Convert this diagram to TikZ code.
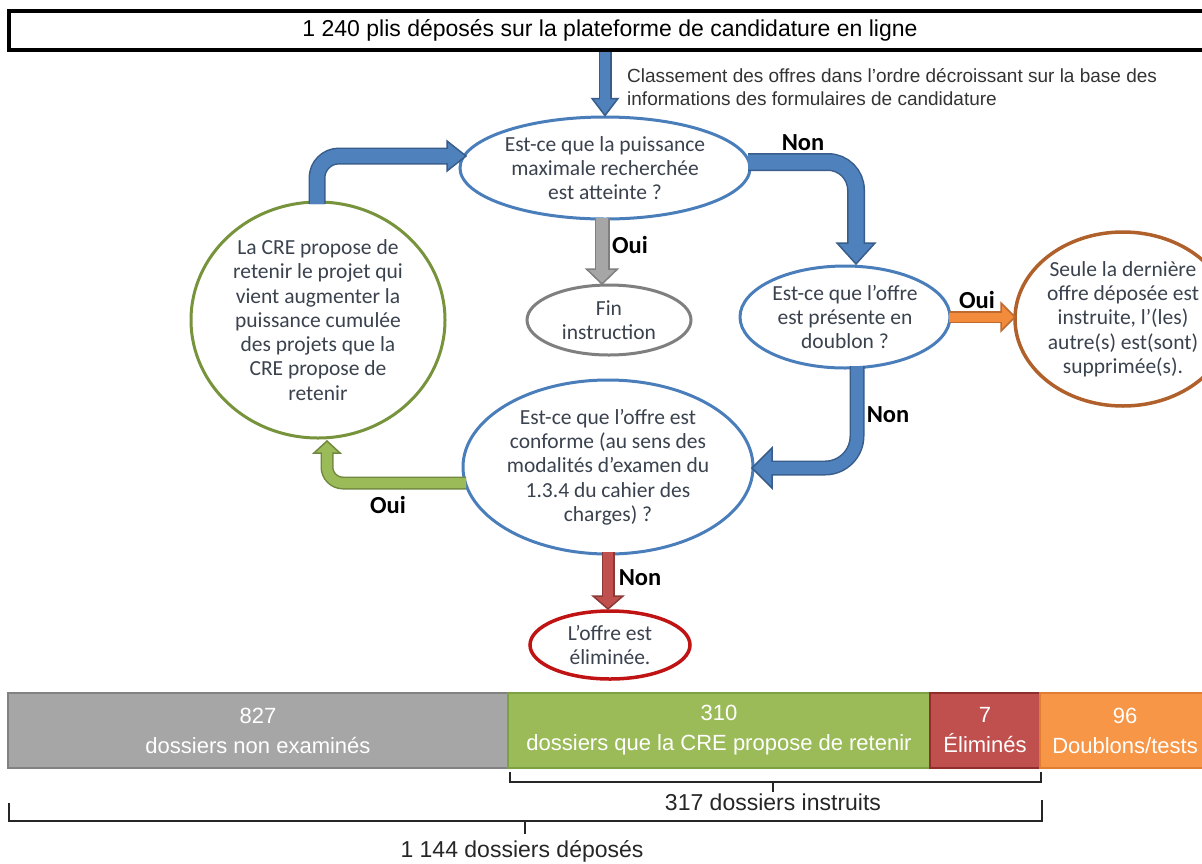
\documentclass[tikz,border=0pt]{standalone}
\usepackage{fontspec}
\setmainfont{Carlito}
\newfontfamily\nar{Liberation Sans}
\usetikzlibrary{shapes.geometric,calc}
\definecolor{txt}{RGB}{58,66,78}
\definecolor{blueF}{RGB}{79,129,189}
\definecolor{blueD}{RGB}{56,93,138}
\definecolor{blueE}{RGB}{74,126,187}
\definecolor{grayF}{RGB}{166,166,166}
\definecolor{grayD}{RGB}{127,127,127}
\definecolor{orF}{RGB}{242,140,60}
\definecolor{orD}{RGB}{190,105,45}
\definecolor{brownE}{RGB}{176,96,42}
\definecolor{redF}{RGB}{192,80,77}
\definecolor{redD}{RGB}{140,56,54}
\definecolor{redE}{RGB}{192,20,20}
\definecolor{greenF}{RGB}{155,187,89}
\definecolor{greenD}{RGB}{113,137,63}
\definecolor{greenE}{RGB}{119,147,60}
\definecolor{barGray}{RGB}{166,166,166}
\definecolor{barGrayD}{RGB}{130,130,130}
\definecolor{barGreen}{RGB}{155,187,89}
\definecolor{barGreenD}{RGB}{125,160,65}
\definecolor{barRed}{RGB}{192,80,77}
\definecolor{barRedD}{RGB}{145,45,45}
\definecolor{barOr}{RGB}{247,150,70}
\definecolor{barOrD}{RGB}{225,125,50}
\tikzset{
  ell/.style={ellipse, draw=#1, line width=3pt, inner sep=0pt, align=center,
    text=txt, font=\fontsize{21.5}{24.3}\selectfont},
  lab/.style={font=\fontsize{24.5}{26}\selectfont\bfseries, text=black},
  barbox/.style 2 args={rectangle, fill=#1, draw=#2, line width=2pt,
    minimum height=75pt, inner sep=0pt, align=center, text=white,
    font=\nar\fontsize{22}{30}\selectfont},
  brk/.style={line width=2pt, draw=black!85},
}
% #1 fill, #2 border, #3 outer width, #4 shaft path, #5 tip, #6 rotation, #7 head half width, #8 head length
\newcommand\blk[8]{%
  \draw[draw=#2, line width=#3pt, line cap=butt] #4;
  \filldraw[fill=#1, draw=#2, line width=1.5pt, line join=miter, shift={(#5)}, rotate=#6]
    (0,0) -- (-#8,#7) -- (-#8,-#7) -- cycle;
  \draw[draw=#1, line width=#3pt-3pt, line cap=butt] #4;
}
\begin{document}
\begin{tikzpicture}[x=1pt,y=-1pt]
\useasboundingbox (0,0) rectangle (1202,863);
\fill[white] (0,0) rectangle (1202,863);

% top box
\node[draw=black, line width=3.5pt, minimum width=1202pt, minimum height=39pt, inner sep=0pt,
  font=\nar\fontsize{23}{26}\selectfont, text=black] (top) at (610,30.5)
  {1 240 plis déposés sur la plateforme de candidature en ligne};
\node[anchor=west, align=left, inner sep=0pt, text=black!80,
  font=\nar\fontsize{19}{23}\selectfont] (cap) at (627,87)
  {Classement des offres dans l’ordre décroissant sur la base des\\informations des formulaires de candidature};

% ellipses
\node[ell=blueE, minimum width=290pt, minimum height=102pt] (e1) at (605,168)
  {Est-ce que la puissance\\maximale recherchée\\est atteinte ?};
\node[ell=grayD, minimum width=164pt, minimum height=70pt] (fin) at (609,320)
  {Fin\\instruction};
\node[ell=blueE, minimum width=210pt, minimum height=102pt] (e2) at (845,317)
  {Est-ce que l’offre\\est présente en\\doublon ?};
\node[ell=brownE, line width=3.5pt, minimum width=216pt, minimum height=174pt] (sup) at (1123,319)
  {Seule la dernière\\offre déposée est\\instruite, l’(les)\\autre(s) est(sont)\\supprimée(s).};
\node[ell=blueE, minimum width=290pt, minimum height=174pt] (e3) at (608,467)
  {Est-ce que l’offre est\\conforme (au sens des\\modalités d’examen du\\1.3.4 du cahier des\\charges) ?};
\node[ell=redE, line width=3.5pt, minimum width=160pt, minimum height=68pt] (elim) at (610,645)
  {L’offre est\\éliminée.};
\node[ell=greenE, minimum width=254pt, minimum height=236pt] (cre) at (318,320)
  {La CRE propose de\\retenir le projet qui\\vient augmenter la\\puissance cumulée\\des projets que la\\CRE propose de\\retenir};

% labels
\node[lab] (l1) at (803,143) {Non};
\node[lab] (l2) at (630,245) {Oui};
\node[lab] (l3) at (977,300) {Oui};
\node[lab] (l4) at (888,415) {Non};
\node[lab] (l5) at (388,505) {Oui};
\node[lab] (l6) at (640,578) {Non};

% arrow end points
\coordinate (a1s) at (e1.north |- top.south);
\coordinate (a1t) at (605,115.5);
\coordinate (a1e) at (605,100.5);
\coordinate (a2s) at (602,218);
\coordinate (a2t) at (602,284);
\coordinate (a2e) at (602,271);
\coordinate (a3s) at (748,162);
\coordinate (a3t) at (856,264);
\coordinate (a3e) at (856,245);
\coordinate (a4s) at (949,317);
\coordinate (a4t) at (1015,317);
\coordinate (a4e) at (1003,317);
\coordinate (a5s) at (857,366);
\coordinate (a5t) at (752,468);
\coordinate (a5e) at (770,468);
\coordinate (a6s) at (608,552);
\coordinate (a6t) at (608,609);
\coordinate (a6e) at (608,598);
\coordinate (a7s) at (466,483);
\coordinate (a7t) at (327,441);
\coordinate (a7e) at (327,451);
\coordinate (a8s) at (317,204);
\coordinate (a8t) at (466,156);
\coordinate (a8e) at (449,156);

% arrows
\blk{blueF}{blueD}{13}{(a1s) -- (a1e)}{a1t}{-90}{13}{17}
\blk{grayF}{grayD}{15}{(a2s) -- (a2e)}{a2t}{-90}{15.5}{15}
\blk{blueF}{blueD}{18}{[rounded corners=28pt] (a3s) -| (a3e)}{a3t}{-90}{19}{21}
\blk{orF}{orD}{12}{(a4s) -- (a4e)}{a4t}{0}{14}{14}
\blk{blueF}{blueD}{15}{[rounded corners=32pt] (a5s) |- (a5e)}{a5t}{180}{20}{20}
\blk{redF}{redD}{13}{(a6s) -- (a6e)}{a6t}{-90}{15}{13}
\blk{greenF}{greenD}{13}{[rounded corners=16pt] (a7s) -| (a7e)}{a7t}{90}{13}{12}
\blk{blueF}{blueD}{17}{[rounded corners=22pt] (a8s) |- (a8e)}{a8t}{0}{15}{19}

% bottom bar
\node[barbox={barGray}{barGrayD}, minimum width=500pt] (b1) at (258,730.5)
  {827\\dossiers non examinés};
\node[barbox={barGreen}{barGreenD}, minimum width=422pt] (b2) at (719,730.5)
  {310\\dossiers que la CRE propose de retenir};
\node[barbox={barRed}{barRedD}, minimum width=110pt] (b3) at (985,730.5)
  {7\\Éliminés};
\node[barbox={barOr}{barOrD}, minimum width=170pt] (b4) at (1125,730.5)
  {96\\Doublons/tests};

% brackets
\node[font=\nar\fontsize{23}{26}\selectfont, text=black!85, inner sep=0pt] (t317) at (773,802)
  {317 dossiers instruits};
\node[font=\nar\fontsize{23}{26}\selectfont, text=black!85, inner sep=0pt] (t1144) at (522,851)
  {1 144 dossiers déposés};
\coordinate (k1L) at (510,772);
\coordinate (k1R) at (1041,772);
\coordinate (k2L) at (9,803);
\coordinate (k2R) at (1042,800);
\draw[brk] (k1L) -- ++(0,10) -| (k1R);
\draw[brk] (t317.north |- 0,782) -- ++(0,10);
\draw[brk] (k2L) -- ++(0,18) -| (k2R);
\draw[brk] (525,821) -- (525,834);
\end{tikzpicture}
\end{document}
